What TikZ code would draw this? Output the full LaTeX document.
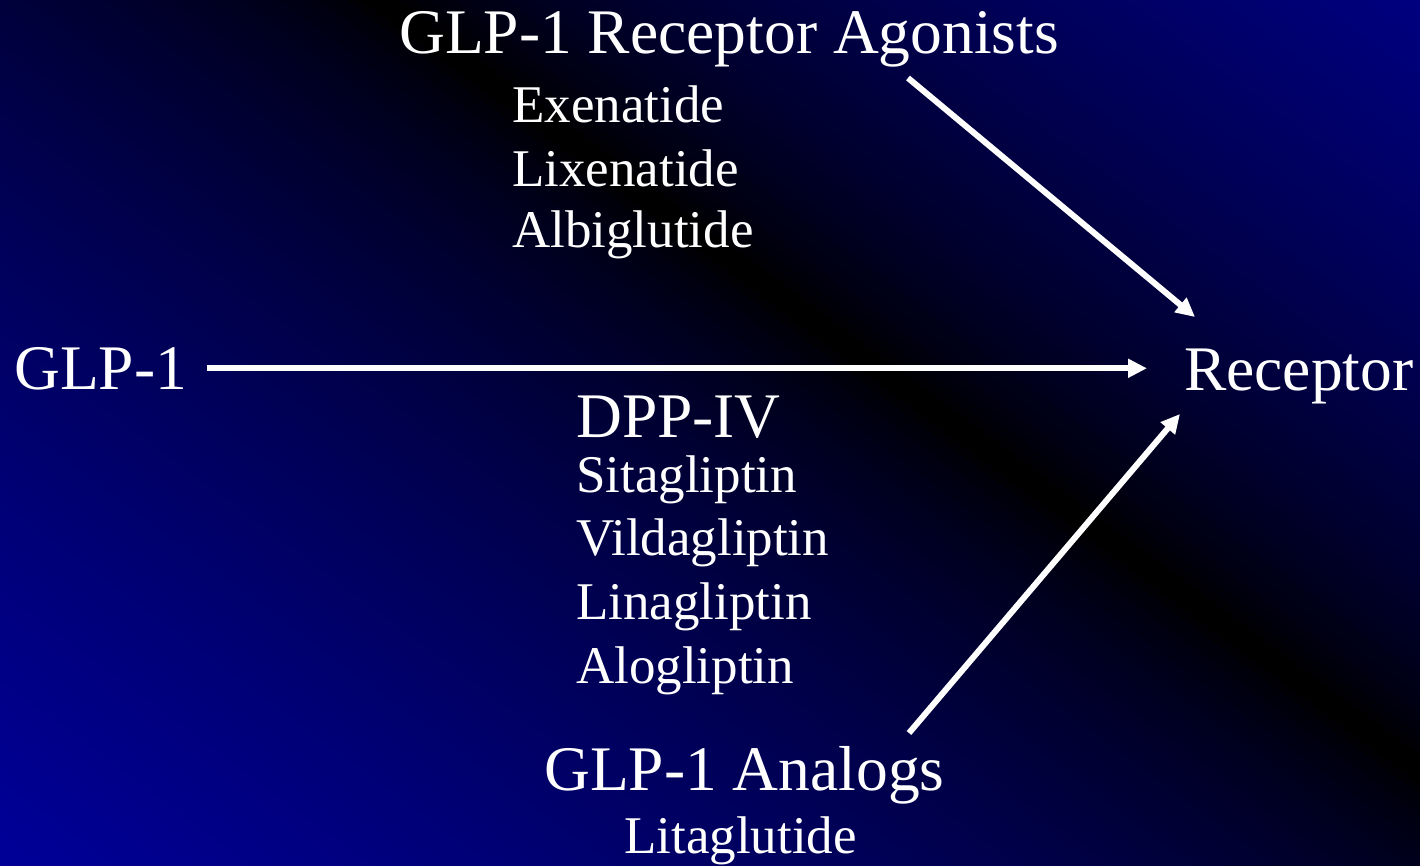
\documentclass[tikz,border=0pt]{standalone}
\usepackage{fontspec}
\setmainfont{Liberation Serif}
\usetikzlibrary{arrows.meta}
\tikzset{
  big/.style={text=white, font=\fontsize{63.5}{63.5}\selectfont, inner sep=0pt, anchor=base west},
  small/.style={text=white, font=\fontsize{53}{53}\selectfont, inner sep=0pt, anchor=base west},
  arr/.style={white, line width=6pt, -{Triangle[length=19pt,width=18pt]}},
}
\begin{document}
\begin{tikzpicture}[x=1pt,y=-1pt]
\useasboundingbox (0,0) rectangle (1420,866);
\fill[black] (0,0) rectangle (1420,866);
\begin{scope}
\clip (0,0) rectangle (1420,866);
\foreach \k in {0,...,200} {
  \pgfmathsetmacro\ax{-179.3+4.76*\k}
  \pgfmathsetmacro\ay{755.76-6.432*\k}
  \pgfmathsetmacro\sm{8*\k-936}
  \pgfmathtruncatemacro\bv{ifthenelse(\sm<0, 153*pow(min(max(abs(\sm)-10,0.01)/912,1),0.65), 128*pow(min(max(\sm-10,0.01)/609,1),0.7))}
  \definecolor{bgc}{RGB}{0,0,\bv}
  \fill[bgc] (\ax+1608,\ay+1190) -- (\ax-1608,\ay-1190) -- (\ax-1608+5.355,\ay-1190-7.236) -- (\ax+1608+5.355,\ay+1190-7.236) -- cycle;
}
\end{scope}

\node[big] (agon) at (399,54) {GLP-1 Receptor Agonists};
\node[small] (exe) at (512,123) {Exenatide};
\node[small] (lix) at (512,187) {Lixenatide};
\node[small] (alb) at (512,248) {Albiglutide};
\node[big] (glp) at (14,389) {GLP-1};
\node[big] (rec) at (1184,390) {Receptor};
\node[big] (dpp) at (576,437) {DPP-IV};
\node[small] (sit) at (576,492) {Sitagliptin};
\node[small] (vil) at (576,555) {Vildagliptin};
\node[small] (lin) at (576,619) {Linagliptin};
\node[small] (alo) at (576,683) {Alogliptin};
\node[big] (ana) at (544,790) {GLP-1 Analogs};
\node[small] (lit) at (624,853) {Litaglutide};

\coordinate (a1s) at (908,78);
\coordinate (a1e) at (1195,317);
\coordinate (a3s) at (909,733);
\coordinate (a3e) at (1180,414);
\draw[arr] (a1s) -- (a1e);
\draw[arr] (a3s) -- (a3e);
\draw[arr, shorten <=20pt, shorten >=37pt] (glp.east) -- (glp.east -| rec.west);
\end{tikzpicture}
\end{document}
